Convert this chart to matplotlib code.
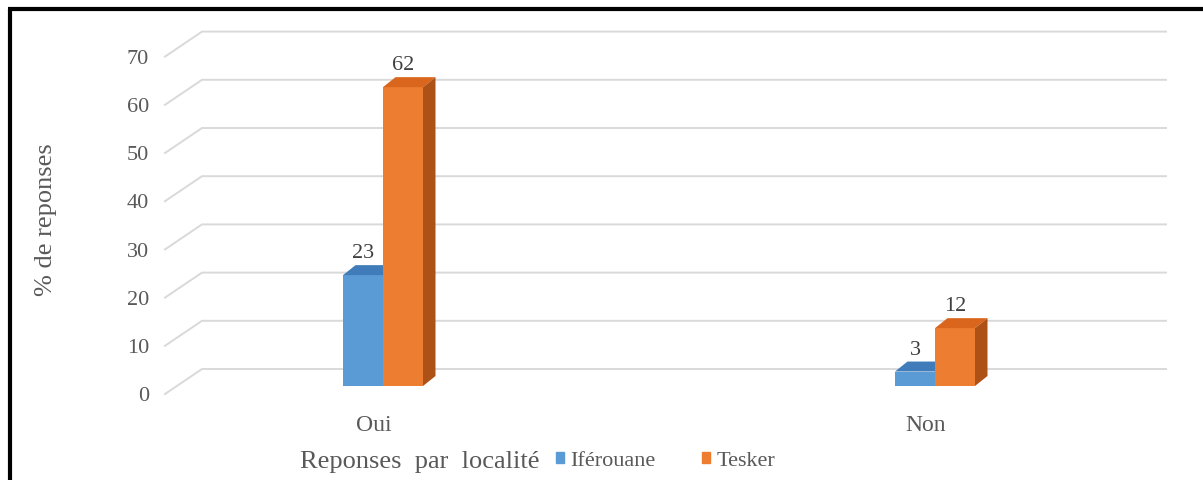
import numpy as np
import matplotlib
matplotlib.use("Agg")
import matplotlib.pyplot as plt
from matplotlib.patches import Polygon

plt.rcParams["font.family"] = ["Liberation Serif", "DejaVu Serif"]

# Data
categories = ["Oui", "Non"]
iferouane = [23, 3]
tesker = [62, 12]
series_names = ["Iférouane", "Tesker"]
yticks = [0, 10, 20, 30, 40, 50, 60, 70]

# Colours (front / top / side)
blue = ("#5B9BD5", "#3F7CB9", "#2F6396")
orange = ("#ED7D31", "#D9661C", "#AE5117")
text_gray = "#595959"

W, H = 1203, 481
fig = plt.figure(figsize=(W / 100, H / 100), dpi=100)
fig.patch.set_facecolor("white")

# axes placed in pixels: value 0 at y=387, value 70 at y~50
px_per_unit = 4.82
ax = fig.add_axes([165 / W, (H - 387) / H, (1166 - 165) / W, 70 * px_per_unit / H])
xpx = 552.0  # pixels between the two categories
ax.set_xlim((165 - 383) / xpx, (1166 - 383) / xpx)
ax.set_ylim(0, 70)
ax.axis("off")

bw = 40 / xpx          # bar width
ddx = 12.5 / xpx       # depth offset in x
ddy = 10 / px_per_unit  # depth offset in y

x = np.arange(len(categories))

# gridlines: back wall + diagonal from the front edge
x_front = ax.get_xlim()[0]
x_back = (202 - 383) / xpx
x_end = ax.get_xlim()[1]
back_off = 17 / px_per_unit
front_off = 8 / px_per_unit
for v in yticks:
    ax.plot([x_front, x_back, x_end], [v - front_off, v + back_off, v + back_off],
            color="#D9D9D9", lw=1.4, clip_on=False, zorder=1)
    ax.text((149 - 383) / xpx, v - 2.0, str(v), ha="right", va="center",
            fontsize=16, color=text_gray, clip_on=False)


def draw_bars(xs, vals, cols, z):
    ax.bar(xs, vals, width=bw, color=cols[0], zorder=z, linewidth=0)
    for xc, v in zip(xs, vals):
        x0, x1 = xc - bw / 2, xc + bw / 2
        top = [(x0, v), (x0 + ddx, v + ddy), (x1 + ddx, v + ddy), (x1, v)]
        side = [(x1, 0), (x1 + ddx, ddy), (x1 + ddx, v + ddy), (x1, v)]
        ax.add_patch(Polygon(top, closed=True, facecolor=cols[1], lw=0,
                             zorder=z, clip_on=False))
        ax.add_patch(Polygon(side, closed=True, facecolor=cols[2], lw=0,
                             zorder=z, clip_on=False))
        ax.text(xc, v + 4.6, str(v), ha="center", va="center", fontsize=16,
                color="#404040", zorder=z + 1, clip_on=False)


draw_bars(x - bw / 2, iferouane, blue, 3)
draw_bars(x + bw / 2, tesker, orange, 4)

# category labels
for xi, c in zip(x, categories):
    ax.text(xi - 0.017, -7.9, c, ha="center", va="center", fontsize=17,
            color=text_gray, clip_on=False)

# y axis title
fig.text(46 / W, 1 - 220 / H, "% de reponses", rotation=90, ha="center",
         va="center", fontsize=19, color=text_gray)

# x axis title and legend on the bottom line
fig.text(300 / W, 1 - 462 / H, "Reponses  par  localité", ha="left",
         va="center", fontsize=19, color=text_gray)
handles = [plt.Rectangle((0, 0), 1, 1, color=blue[0]),
           plt.Rectangle((0, 0), 1, 1, color=orange[0])]
leg = fig.legend(handles, series_names, loc="center left",
                 bbox_to_anchor=(556 / W, 1 - 462 / H), ncol=2, frameon=False,
                 fontsize=16, handlelength=0.35, handleheight=0.35,
                 handletextpad=0.3, columnspacing=2.1, borderpad=0,
                 borderaxespad=0)
for t in leg.get_texts():
    t.set_color(text_gray)

# black frame on top and left
fig.add_artist(plt.Line2D([8 / W, 1], [1 - 10 / H, 1 - 10 / H],
                          transform=fig.transFigure, color="black", lw=3,
                          solid_capstyle="butt"))
fig.add_artist(plt.Line2D([10 / W, 10 / W], [0, 1 - 10 / H],
                          transform=fig.transFigure, color="black", lw=3,
                          solid_capstyle="butt"))

fig.savefig("out.png", dpi=100)
